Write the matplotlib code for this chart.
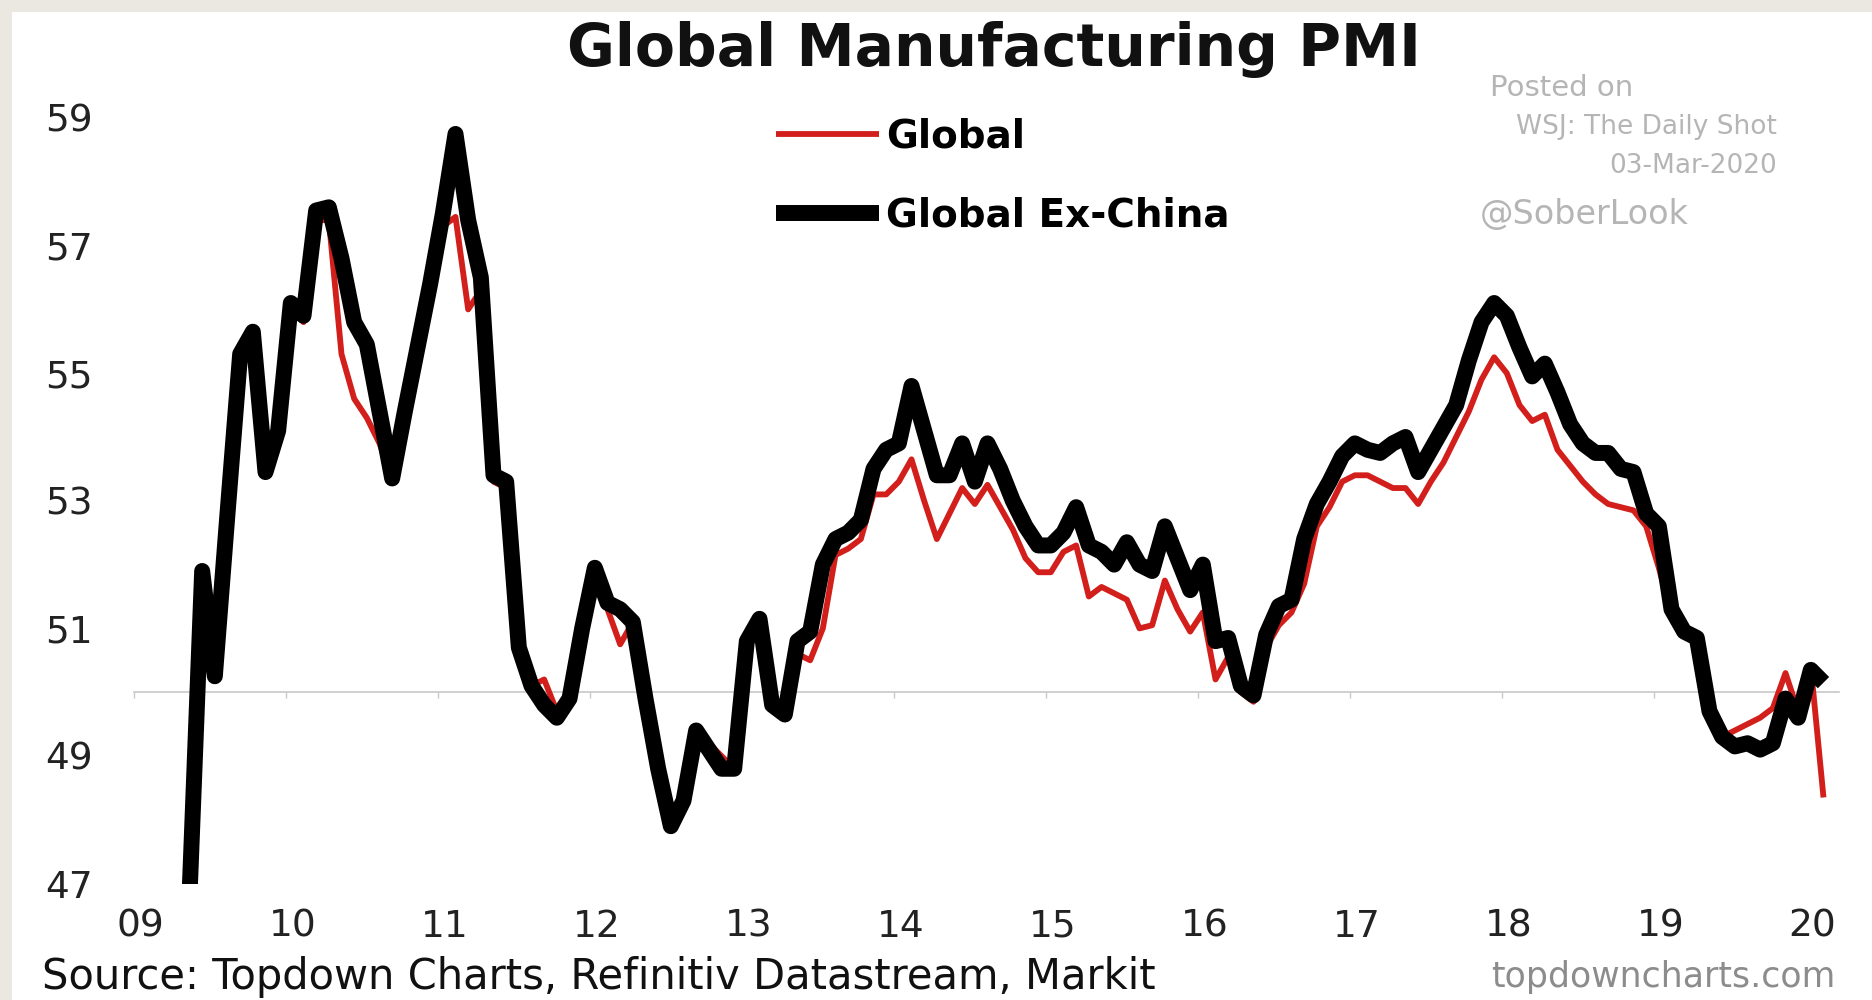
import matplotlib
matplotlib.use("Agg")
import matplotlib.pyplot as plt
from matplotlib.patches import Rectangle
import numpy as np

# monthly readings, May 2009 .. Feb 2020
first_month = 4  # months after Jan 2009
global_ex_china = [
    46.8, 51.9, 50.25, 52.8, 55.3, 55.65, 53.45, 54.1, 56.1, 55.9,
    57.55, 57.6, 56.8, 55.8, 55.45, 54.4, 53.35, 54.4, 55.4, 56.4,
    57.5, 58.75, 57.4, 56.5, 53.4, 53.3, 50.7, 50.1, 49.8, 49.6,
    49.9, 51.0, 51.95, 51.4, 51.3, 51.1, 49.9, 48.8, 47.9, 48.3,
    49.4, 49.1, 48.8, 48.8, 50.8, 51.15, 49.8, 49.65, 50.8, 50.95,
    52.0, 52.4, 52.5, 52.7, 53.5, 53.8, 53.9, 54.8, 54.1, 53.4,
    53.4, 53.9, 53.3, 53.9, 53.5, 53.0, 52.6, 52.3, 52.3, 52.5,
    52.9, 52.3, 52.2, 52.0, 52.35, 52.0, 51.9, 52.6, 52.1, 51.6,
    52.0, 50.8, 50.85, 50.1, 49.95, 50.9, 51.35, 51.45, 52.4, 52.95,
    53.3, 53.7, 53.9, 53.8, 53.75, 53.9, 54.0, 53.45, 53.8, 54.15,
    54.5, 55.2, 55.8, 56.1, 55.9, 55.4, 54.95, 55.15, 54.7, 54.2,
    53.9, 53.75, 53.75, 53.5, 53.45, 52.8, 52.6, 51.3, 50.95, 50.85,
    49.7, 49.3, 49.15, 49.2, 49.1, 49.2, 49.9, 49.6, 50.35, 50.15,
]
global_pmi = [
    47.3, 51.8, 50.3, 52.8, 55.2, 55.6, 53.5, 54.1, 56.0, 55.8,
    57.4, 57.4, 55.3, 54.6, 54.3, 53.9, 53.35, 54.4, 55.4, 56.4,
    57.3, 57.45, 56.0, 56.3, 53.3, 53.2, 50.7, 50.1, 50.2, 49.7,
    49.9, 50.9, 51.8, 51.3, 50.75, 51.1, 49.9, 48.8, 47.95, 48.3,
    49.4, 49.2, 49.0, 48.8, 50.7, 51.1, 49.8, 49.7, 50.6, 50.5,
    51.0, 52.15, 52.25, 52.4, 53.1, 53.1, 53.3, 53.65, 53.0, 52.4,
    52.8, 53.2, 52.95, 53.25, 52.9, 52.55, 52.1, 51.88, 51.88, 52.2,
    52.3, 51.5, 51.65, 51.55, 51.45, 51.0, 51.05, 51.75, 51.3, 50.95,
    51.25, 50.2, 50.55, 50.0, 49.85, 50.7, 51.05, 51.25, 51.7, 52.6,
    52.9, 53.3, 53.4, 53.4, 53.3, 53.2, 53.2, 52.95, 53.3, 53.6,
    54.0, 54.4, 54.9, 55.25, 55.0, 54.5, 54.25, 54.35, 53.8, 53.55,
    53.3, 53.1, 52.95, 52.9, 52.85, 52.6, 51.95, 51.2, 50.9, 50.8,
    49.7, 49.3, 49.4, 49.5, 49.6, 49.75, 50.3, 49.7, 50.4, 48.35,
]
year_ticks = list(range(2009, 2021))
year_labels = ['09', '10', '11', '12', '13', '14', '15', '16', '17', '18', '19', '20']
y_ticks = [47, 49, 51, 53, 55, 57, 59]

# decimal years, points sit a little into each month
x = 2009 + (first_month + np.arange(len(global_pmi)) + 0.35) / 12

W, H = 1872, 1000
fig = plt.figure(figsize=(W / 100, H / 100), dpi=100)
fig.patch.set_facecolor('#ebe8e1')
fig.patches.append(Rectangle((12 / W, 0), 1, 1 - 12 / H, transform=fig.transFigure,
                             facecolor='white', edgecolor='none', zorder=-1))

# axes box in pixels of the reference
left, right, top, bottom = 134.4, 1839, 118, 883.6
ax = fig.add_axes([left / W, 1 - bottom / H, (right - left) / W, (bottom - top) / H])
ax.set_facecolor('none')
ax.set_xlim(2009.0, 2009 + (right - left) / 152)
ax.set_ylim(47, 59)

ax.plot(x, global_pmi, color='#d21f1b', lw=4.2, label='Global', zorder=3,
        solid_joinstyle='round', solid_capstyle='butt')
ax.plot(x, global_ex_china, color='black', lw=11.5, label='Global Ex-China', zorder=4,
        solid_joinstyle='round', solid_capstyle='butt')

for s in ax.spines.values():
    s.set_visible(False)
ax.set_yticks(y_ticks)
ax.set_yticklabels([str(v) for v in y_ticks])
ax.set_xticks([t + 0.04 for t in year_ticks])
ax.set_xticklabels(year_labels)
ax.tick_params(axis='y', length=0, pad=30, labelsize=27, labelcolor='#222222')
ax.tick_params(axis='x', length=0, pad=18, labelsize=27, labelcolor='#222222')

# horizontal axis line crossing at 50 with small year ticks
sec = ax.secondary_xaxis((50 - 47) / 12)
sec.set_xticks(year_ticks)
sec.set_xticklabels([''] * len(year_ticks))
sec.spines['bottom'].set_color('#c8c8c8')
sec.spines['bottom'].set_linewidth(1.2)
sec.tick_params(axis='x', length=4, width=1, color='#c8c8c8')

ax.legend(loc='upper left', bbox_to_anchor=(776 / W, 1 - 118 / H),
          bbox_transform=fig.transFigure, frameon=False, borderpad=0,
          borderaxespad=0, handlelength=2.65, handletextpad=0.18, labelspacing=1.05,
          prop={'size': 28, 'weight': 'bold'})

fig.text(0.531, 1 - 50 / H, 'Global Manufacturing PMI', ha='center', va='center',
         fontsize=42, fontweight='bold', color='#111111')

grey = '#b5b5b5'
fig.text(1490 / W, 1 - 88 / H, 'Posted on', color=grey, fontsize=21, va='center')
fig.text(1777 / W, 1 - 127 / H, 'WSJ: The Daily Shot', color=grey, fontsize=19,
         va='center', ha='right')
fig.text(1777 / W, 1 - 166 / H, '03-Mar-2020', color=grey, fontsize=19,
         va='center', ha='right')
fig.text(1480 / W, 1 - 215 / H, '@SoberLook', color=grey, fontsize=24, va='center')

fig.text(42 / W, 1 - 977 / H, 'Source: Topdown Charts, Refinitiv Datastream, Markit',
         fontsize=30, va='center', color='#111111')
fig.text(1836 / W, 1 - 977 / H, 'topdowncharts.com', fontsize=25, va='center',
         ha='right', color='#8c8c8c')

fig.savefig('out.png', dpi=100, facecolor=fig.get_facecolor())
